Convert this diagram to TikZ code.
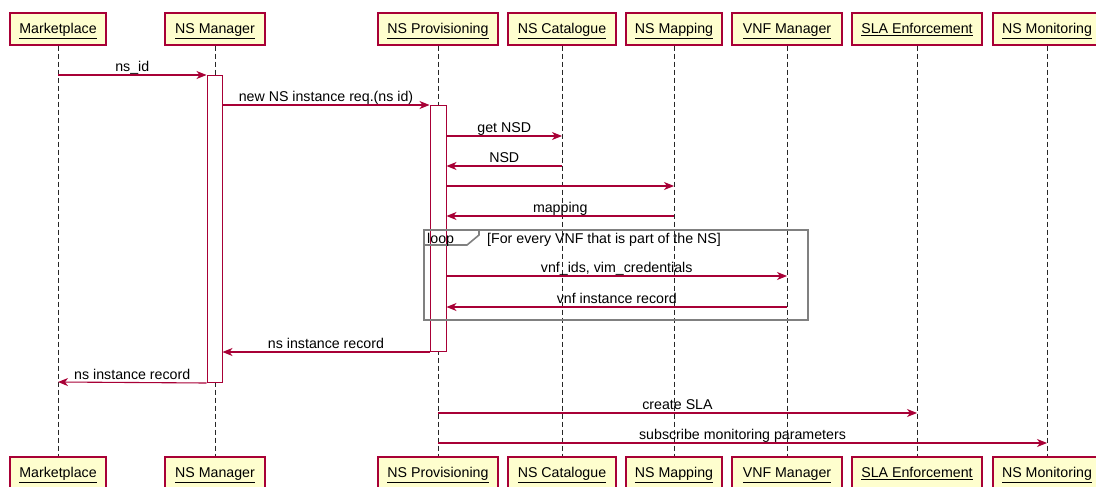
\documentclass[tikz,border=0pt]{standalone}
\usepackage{fontspec}
\setmainfont{Liberation Sans}
\usetikzlibrary{arrows.meta}

\definecolor{umlred}{HTML}{A80036}
\definecolor{umlfill}{HTML}{FEFECE}
\definecolor{framegray}{HTML}{808080}

\newcommand{\umlfont}{\fontsize{14.2}{16}\selectfont}

\tikzset{
  party/.style={draw=umlred, fill=umlfill, line width=1.2pt,
    minimum height=32pt, inner sep=0pt, text height=9.6pt, text depth=0pt,
    font=\umlfont},
  lifeline/.style={draw=black!85, line width=0.9pt, dash pattern=on 5pt off 3pt},
  actbox/.style={draw=umlred, fill=white, line width=1pt, inner sep=0pt,
    minimum width=15pt},
  msg/.style={draw=umlred, line width=1.1pt,
    -{Stealth[length=10pt,width=8pt,inset=3pt]}},
  lbl/.style={anchor=base, yshift=3.5pt, inner sep=0pt, text=black,
    font=\umlfont},
  loopframe/.style={draw=framegray, line width=1.6pt},
  looptxt/.style={anchor=base west, inner sep=0pt, font=\umlfont}
}

\begin{document}
\begin{tikzpicture}[x=1pt, y=-1pt]
\useasboundingbox (0,0) rectangle (1096,487);
\clip (0,0) rectangle (1096,487);

% participants, top row and bottom row
\foreach \id/\cx/\w/\name in {
    mp/58/96/Marketplace,
    mg/215/100/NS Manager,
    pv/438/120/NS Provisioning,
    ct/562/108/NS Catalogue,
    ma/674/96/NS Mapping,
    vn/787/110/VNF Manager,
    sl/917/130/SLA Enforcement,
    mo/1047/108/NS Monitoring} {
  \node[party, minimum width=\w pt] (\id T) at (\cx,29) {\underline{\name}};
  \node[party, minimum width=\w pt] (\id B) at (\cx,473) {\underline{\name}};
}

% lifelines
\foreach \id in {mp,mg,pv,ct,ma,vn,sl,mo}
  \draw[lifeline] (\id T.south) -- (\id B.north);

% activation bars
\node[actbox, minimum height=307pt, anchor=north] (actM) at (214.5,75) {};
\node[actbox, minimum height=246pt, minimum width=16pt, anchor=north] (actP) at (438,105) {};

% message end points on the lifelines
\coordinate (mp1) at (mpT.south |- 0,75);
\coordinate (mp2) at (mpT.south |- 0,382);
\coordinate (ct1) at (ctT.south |- 0,136);
\coordinate (ct2) at (ctT.south |- 0,166);
\coordinate (ma1) at (maT.south |- 0,186);
\coordinate (ma2) at (maT.south |- 0,216);
\coordinate (vn1) at (vnT.south |- 0,276);
\coordinate (vn2) at (vnT.south |- 0,307);
\coordinate (pv1) at (pvT.south |- 0,413);
\coordinate (pv2) at (pvT.south |- 0,443);
\coordinate (sl1) at (slT.south |- 0,413);
\coordinate (mo1) at (moT.south |- 0,443);

% messages
\draw[msg] (mp1) -- node[lbl]{ns\_id} (mp1 -| actM.west);
\draw[msg] (actM.east |- 0,105) -- node[lbl]{new NS instance req.(ns id)} (actP.north west);
\draw[msg] (actP.east |- ct1) -- node[lbl]{get NSD} (ct1);
\draw[msg] (ct2) -- node[lbl]{NSD} (actP.east |- ct2);
\draw[msg] (actP.east |- ma1) -- (ma1);
\draw[msg] (ma2) -- node[lbl]{mapping} (actP.east |- ma2);
\draw[msg] (actP.east |- vn1) -- node[lbl]{vnf\_ids, vim\_credentials} (vn1);
\draw[msg] (vn2) -- node[lbl]{vnf instance record} (actP.east |- vn2);
\draw[msg] (actP.south west) -- node[lbl]{ns instance record} (actM.east |- actP.south);
\draw[msg] (actM.south west) -- node[lbl]{ns instance record} (mp2);
\draw[msg] (pv1) -- node[lbl]{create SLA} (sl1);
\draw[msg] (pv2) -- node[lbl]{subscribe monitoring parameters} (mo1);

% loop combined fragment
\draw[loopframe] (424,230) rectangle (808,320);
\draw[loopframe, line join=miter] (424,245) -- (467,245) -- (479,235) -- (479,230);
\node[looptxt] (loopkw) at (427,243) {loop};
\node[looptxt] (loopguard) at (487,243) {[For every VNF that is part of the NS]};
\end{tikzpicture}
\end{document}
